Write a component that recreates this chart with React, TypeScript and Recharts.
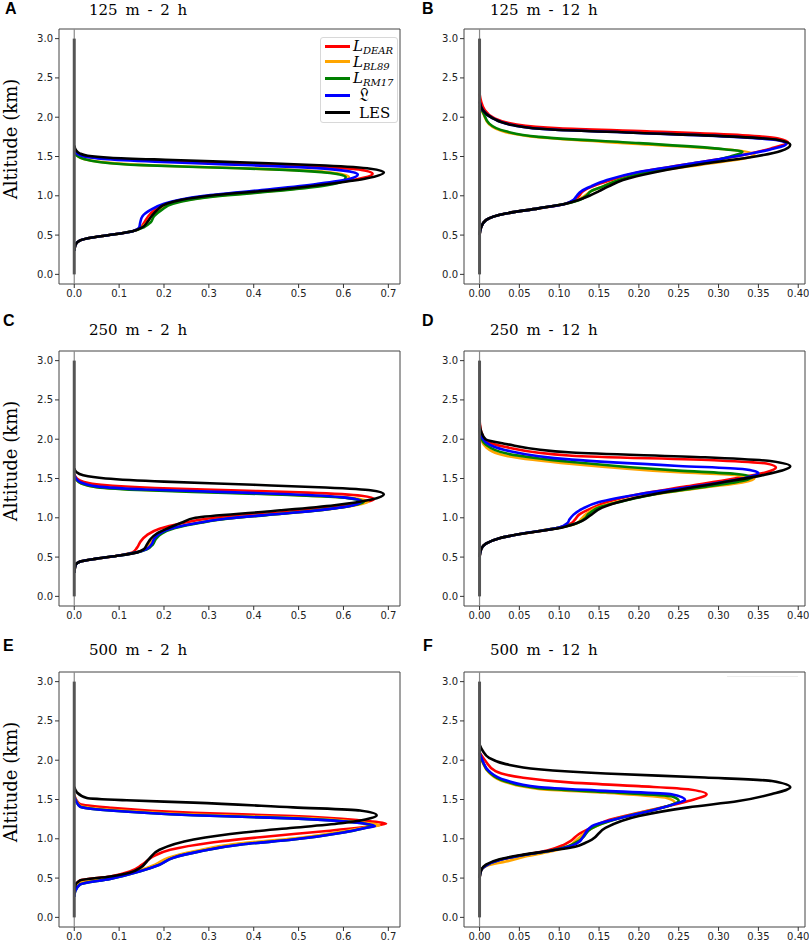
import React from "react";
import { LineChart, Line, XAxis, YAxis, ReferenceLine, ReferenceArea } from "recharts";

// each profile point is [value, altitude in km]
type P = [number, number];

const ALT_TICKS = [0, 0.5, 1, 1.5, 2, 2.5, 3];
const X_TICKS_2H = [0, 0.1, 0.2, 0.3, 0.4, 0.5, 0.6, 0.7];
const X_TICKS_12H = [0, 0.05, 0.1, 0.15, 0.2, 0.25, 0.3, 0.35, 0.4];
const ALT_DOMAIN = [-0.1225, 3.1225];
const X_DOMAIN_2H = [-0.034, 0.726];
const X_DOMAIN_12H = [-0.0195, 0.4085];

const LABELS = ["DEAR", "BL89", "RM17", "L", "LES"];
const COLORS = ["#ff0000", "#ffa500", "#008000", "#0000ff", "#000000"];
const ZERO_SEGMENT: P[] = [[0, 0], [0, 3]];

// 125 m - 2 h
const A_DEAR: P[] = [[0,0.3],[0.003,0.38],[0.012,0.43],[0.04,0.47],[0.09,0.51],[0.13,0.55],[0.148,0.6],[0.156,0.66],[0.165,0.74],[0.18,0.82],[0.205,0.9],[0.24,0.95],[0.3,1.0],[0.45,1.08],[0.56,1.15],[0.63,1.21],[0.665,1.28],[0.64,1.33],[0.54,1.37],[0.38,1.405],[0.2,1.44],[0.07,1.475],[0.025,1.5],[0.01,1.53],[0.003,1.57],[0,1.62]];
const A_BL89: P[] = [[0,0.3],[0.003,0.38],[0.012,0.43],[0.04,0.47],[0.09,0.51],[0.13,0.55],[0.15,0.6],[0.162,0.66],[0.172,0.74],[0.19,0.82],[0.215,0.9],[0.255,0.95],[0.32,1.0],[0.46,1.07],[0.55,1.13],[0.6,1.19],[0.612,1.24],[0.58,1.29],[0.48,1.33],[0.32,1.36],[0.16,1.39],[0.06,1.43],[0.02,1.47],[0.007,1.51],[0,1.56]];
const A_RM17: P[] = [[0,0.3],[0.003,0.38],[0.012,0.43],[0.04,0.47],[0.09,0.51],[0.13,0.55],[0.155,0.6],[0.17,0.66],[0.178,0.74],[0.195,0.82],[0.22,0.9],[0.26,0.95],[0.33,1.0],[0.47,1.07],[0.56,1.13],[0.6,1.19],[0.605,1.24],[0.57,1.29],[0.47,1.33],[0.31,1.36],[0.15,1.39],[0.055,1.43],[0.02,1.47],[0.006,1.51],[0,1.56]];
const A_L: P[] = [[0,0.3],[0.003,0.38],[0.012,0.43],[0.04,0.47],[0.09,0.51],[0.13,0.55],[0.145,0.6],[0.147,0.66],[0.152,0.74],[0.17,0.82],[0.2,0.9],[0.235,0.95],[0.29,1.0],[0.43,1.08],[0.54,1.15],[0.61,1.21],[0.632,1.27],[0.6,1.32],[0.5,1.365],[0.34,1.4],[0.18,1.435],[0.065,1.47],[0.022,1.5],[0.008,1.53],[0.002,1.57],[0,1.62]];
const A_LES: P[] = [[0,0.3],[0.003,0.38],[0.012,0.43],[0.04,0.47],[0.09,0.51],[0.13,0.55],[0.152,0.6],[0.162,0.66],[0.172,0.74],[0.185,0.82],[0.206,0.9],[0.24,0.95],[0.3,1.0],[0.46,1.08],[0.58,1.16],[0.65,1.22],[0.69,1.3],[0.66,1.345],[0.56,1.385],[0.4,1.42],[0.22,1.455],[0.08,1.485],[0.03,1.51],[0.012,1.54],[0.004,1.58],[0,1.64]];

// 125 m - 12 h
const B_DEAR: P[] = [[0,0.5],[0.002,0.6],[0.008,0.69],[0.033,0.775],[0.074,0.84],[0.108,0.9],[0.12,0.95],[0.125,1.0],[0.13,1.06],[0.142,1.12],[0.165,1.2],[0.2,1.3],[0.26,1.4],[0.32,1.5],[0.365,1.6],[0.387,1.68],[0.375,1.73],[0.33,1.77],[0.21,1.82],[0.1,1.86],[0.045,1.91],[0.018,1.99],[0.006,2.1],[0.002,2.2],[0,2.3]];
const B_BL89: P[] = [[0,0.5],[0.002,0.6],[0.008,0.69],[0.033,0.775],[0.074,0.84],[0.108,0.9],[0.124,0.95],[0.132,1.0],[0.14,1.06],[0.155,1.12],[0.175,1.2],[0.215,1.3],[0.28,1.4],[0.335,1.48],[0.345,1.53],[0.315,1.585],[0.2,1.66],[0.074,1.745],[0.033,1.81],[0.012,1.91],[0.005,2.04],[0,2.14]];
const B_RM17: P[] = [[0,0.5],[0.002,0.6],[0.008,0.69],[0.033,0.775],[0.074,0.84],[0.108,0.9],[0.126,0.95],[0.134,1.0],[0.14,1.06],[0.155,1.12],[0.175,1.2],[0.21,1.3],[0.27,1.4],[0.315,1.5],[0.33,1.56],[0.3,1.6],[0.2,1.67],[0.074,1.75],[0.033,1.82],[0.012,1.92],[0.005,2.05],[0,2.15]];
const B_L: P[] = [[0,0.5],[0.002,0.6],[0.008,0.69],[0.033,0.775],[0.074,0.84],[0.108,0.9],[0.118,0.95],[0.122,1.0],[0.128,1.06],[0.14,1.12],[0.16,1.2],[0.198,1.3],[0.26,1.4],[0.32,1.5],[0.365,1.59],[0.385,1.66],[0.372,1.71],[0.32,1.75],[0.2,1.8],[0.095,1.84],[0.041,1.9],[0.016,1.99],[0.004,2.09],[0,2.2]];
const B_LES: P[] = [[0,0.5],[0.002,0.6],[0.008,0.69],[0.033,0.775],[0.074,0.84],[0.108,0.9],[0.125,0.95],[0.138,1.0],[0.15,1.06],[0.162,1.12],[0.18,1.2],[0.22,1.3],[0.283,1.41],[0.346,1.5],[0.378,1.57],[0.39,1.65],[0.375,1.71],[0.325,1.75],[0.2,1.8],[0.095,1.84],[0.041,1.9],[0.016,1.99],[0.004,2.09],[0,2.2]];

// 250 m - 2 h
const C_DEAR: P[] = [[0,0.3],[0.003,0.4],[0.012,0.44],[0.05,0.48],[0.1,0.52],[0.13,0.56],[0.14,0.62],[0.148,0.7],[0.162,0.78],[0.19,0.86],[0.24,0.93],[0.3,0.99],[0.44,1.06],[0.57,1.13],[0.64,1.19],[0.668,1.24],[0.64,1.28],[0.52,1.32],[0.35,1.35],[0.18,1.38],[0.06,1.42],[0.02,1.46],[0.006,1.5],[0,1.56]];
const C_BL89: P[] = [[0,0.3],[0.003,0.4],[0.012,0.44],[0.05,0.48],[0.1,0.52],[0.14,0.56],[0.158,0.6],[0.168,0.66],[0.175,0.73],[0.188,0.8],[0.22,0.87],[0.28,0.94],[0.34,0.99],[0.48,1.06],[0.58,1.12],[0.635,1.17],[0.655,1.2],[0.62,1.25],[0.49,1.29],[0.32,1.325],[0.16,1.355],[0.05,1.39],[0.015,1.44],[0.004,1.49],[0,1.54]];
const C_RM17: P[] = [[0,0.3],[0.003,0.4],[0.012,0.44],[0.05,0.48],[0.1,0.52],[0.14,0.56],[0.162,0.6],[0.175,0.66],[0.182,0.73],[0.195,0.8],[0.225,0.87],[0.285,0.94],[0.345,0.99],[0.48,1.06],[0.58,1.12],[0.63,1.17],[0.645,1.2],[0.61,1.25],[0.48,1.29],[0.32,1.32],[0.16,1.35],[0.05,1.39],[0.015,1.44],[0.004,1.49],[0,1.54]];
const C_L: P[] = [[0,0.3],[0.003,0.4],[0.012,0.44],[0.05,0.48],[0.1,0.52],[0.14,0.56],[0.16,0.6],[0.172,0.66],[0.178,0.73],[0.19,0.8],[0.22,0.87],[0.28,0.94],[0.34,0.99],[0.48,1.06],[0.58,1.12],[0.628,1.17],[0.64,1.21],[0.6,1.26],[0.48,1.3],[0.32,1.33],[0.16,1.36],[0.05,1.4],[0.015,1.45],[0.004,1.5],[0,1.55]];
const C_LES: P[] = [[0,0.3],[0.003,0.4],[0.012,0.44],[0.05,0.48],[0.1,0.52],[0.14,0.56],[0.155,0.6],[0.162,0.66],[0.17,0.73],[0.184,0.8],[0.21,0.87],[0.24,0.94],[0.27,1.0],[0.43,1.08],[0.58,1.16],[0.66,1.23],[0.69,1.3],[0.66,1.35],[0.56,1.385],[0.4,1.42],[0.2,1.46],[0.07,1.5],[0.02,1.54],[0.005,1.58],[0,1.63]];

// 250 m - 12 h
const D_DEAR: P[] = [[0,0.5],[0.002,0.6],[0.008,0.67],[0.025,0.74],[0.049,0.79],[0.1,0.875],[0.115,0.93],[0.12,0.98],[0.125,1.04],[0.14,1.12],[0.16,1.2],[0.2,1.3],[0.26,1.4],[0.32,1.5],[0.36,1.58],[0.372,1.64],[0.36,1.69],[0.3,1.73],[0.116,1.79],[0.033,1.9],[0.008,1.98],[0.002,2.1],[0,2.25]];
const D_BL89: P[] = [[0,0.5],[0.002,0.6],[0.008,0.67],[0.025,0.74],[0.049,0.79],[0.1,0.875],[0.122,0.93],[0.128,0.99],[0.134,1.05],[0.148,1.13],[0.172,1.2],[0.22,1.3],[0.285,1.39],[0.33,1.45],[0.345,1.5],[0.325,1.54],[0.25,1.58],[0.116,1.685],[0.033,1.79],[0.008,1.9],[0.002,2.0],[0,2.1]];
const D_RM17: P[] = [[0,0.5],[0.002,0.6],[0.008,0.67],[0.025,0.74],[0.049,0.79],[0.1,0.875],[0.122,0.93],[0.132,0.99],[0.137,1.05],[0.15,1.13],[0.175,1.2],[0.22,1.3],[0.28,1.39],[0.325,1.46],[0.342,1.515],[0.32,1.56],[0.25,1.6],[0.116,1.71],[0.033,1.82],[0.008,1.93],[0.002,2.02],[0,2.12]];
const D_L: P[] = [[0,0.5],[0.002,0.6],[0.008,0.67],[0.025,0.74],[0.049,0.79],[0.1,0.875],[0.11,0.93],[0.113,0.98],[0.118,1.04],[0.13,1.12],[0.15,1.2],[0.2,1.3],[0.27,1.4],[0.33,1.5],[0.35,1.57],[0.33,1.62],[0.25,1.66],[0.116,1.74],[0.033,1.86],[0.008,1.96],[0.002,2.05],[0,2.15]];
const D_LES: P[] = [[0,0.5],[0.002,0.6],[0.008,0.67],[0.025,0.74],[0.049,0.79],[0.104,0.877],[0.129,0.96],[0.139,1.03],[0.154,1.13],[0.19,1.24],[0.241,1.34],[0.304,1.45],[0.354,1.54],[0.39,1.655],[0.367,1.72],[0.283,1.77],[0.116,1.83],[0.033,1.94],[0.0075,2.0],[0.002,2.1],[0,2.2]];

// 500 m - 2 h
const E_DEAR: P[] = [[0,0.3],[0.002,0.4],[0.013,0.47],[0.08,0.52],[0.125,0.587],[0.151,0.67],[0.177,0.78],[0.214,0.86],[0.303,0.95],[0.414,1.02],[0.563,1.1],[0.66,1.16],[0.695,1.19],[0.637,1.234],[0.488,1.29],[0.266,1.33],[0.08,1.395],[0.013,1.44],[0.004,1.5],[0,1.56]];
const E_BL89: P[] = [[0,0.28],[0.002,0.36],[0.013,0.44],[0.08,0.5],[0.14,0.587],[0.18,0.67],[0.21,0.76],[0.27,0.845],[0.365,0.94],[0.48,1.0],[0.59,1.085],[0.655,1.15],[0.68,1.17],[0.637,1.21],[0.488,1.27],[0.266,1.31],[0.08,1.37],[0.013,1.42],[0.004,1.49],[0,1.55]];
const E_RM17: P[] = [[0,0.26],[0.002,0.33],[0.013,0.42],[0.08,0.49],[0.147,0.587],[0.19,0.67],[0.221,0.76],[0.28,0.84],[0.377,0.93],[0.488,0.99],[0.6,1.08],[0.65,1.14],[0.665,1.16],[0.637,1.2],[0.488,1.26],[0.266,1.3],[0.08,1.36],[0.013,1.41],[0.004,1.48],[0,1.54]];
const E_L: P[] = [[0,0.26],[0.002,0.33],[0.013,0.42],[0.08,0.49],[0.147,0.587],[0.19,0.67],[0.221,0.76],[0.28,0.84],[0.377,0.93],[0.488,0.99],[0.6,1.08],[0.652,1.14],[0.67,1.16],[0.637,1.2],[0.488,1.26],[0.266,1.3],[0.08,1.36],[0.013,1.41],[0.004,1.48],[0,1.54]];
const E_LES: P[] = [[0,0.3],[0.002,0.4],[0.013,0.47],[0.08,0.52],[0.125,0.57],[0.147,0.63],[0.166,0.74],[0.19,0.86],[0.266,0.99],[0.377,1.08],[0.488,1.14],[0.6,1.2],[0.66,1.26],[0.674,1.3],[0.637,1.36],[0.488,1.4],[0.266,1.46],[0.117,1.49],[0.028,1.52],[0.006,1.59],[0,1.66]];

// 500 m - 12 h
const F_DEAR: P[] = [[0,0.5],[0.002,0.6],[0.008,0.66],[0.025,0.73],[0.05,0.785],[0.085,0.85],[0.105,0.92],[0.114,0.97],[0.124,1.055],[0.14,1.14],[0.158,1.225],[0.208,1.35],[0.262,1.48],[0.285,1.566],[0.262,1.63],[0.2,1.67],[0.116,1.715],[0.053,1.78],[0.02,1.86],[0.0075,1.99],[0,2.1]];
const F_BL89: P[] = [[0,0.5],[0.002,0.6],[0.01,0.66],[0.033,0.71],[0.06,0.78],[0.095,0.85],[0.113,0.91],[0.12,0.97],[0.128,1.04],[0.142,1.14],[0.17,1.25],[0.21,1.35],[0.238,1.42],[0.245,1.46],[0.235,1.52],[0.158,1.585],[0.074,1.635],[0.033,1.72],[0.012,1.84],[0.004,1.97],[0,2.07]];
const F_RM17: P[] = [[0,0.5],[0.002,0.6],[0.008,0.66],[0.025,0.73],[0.05,0.785],[0.09,0.85],[0.112,0.91],[0.124,0.97],[0.13,1.02],[0.14,1.13],[0.175,1.26],[0.215,1.36],[0.243,1.44],[0.25,1.48],[0.241,1.54],[0.158,1.595],[0.074,1.645],[0.033,1.73],[0.012,1.85],[0.004,1.98],[0,2.08]];
const F_L: P[] = [[0,0.5],[0.002,0.6],[0.008,0.66],[0.025,0.73],[0.05,0.785],[0.09,0.85],[0.115,0.91],[0.126,0.97],[0.129,1.01],[0.141,1.16],[0.179,1.27],[0.22,1.37],[0.25,1.46],[0.258,1.494],[0.241,1.566],[0.158,1.61],[0.074,1.66],[0.033,1.745],[0.012,1.86],[0.004,1.99],[0,2.1]];
const F_LES: P[] = [[0,0.5],[0.002,0.6],[0.008,0.67],[0.025,0.74],[0.05,0.79],[0.09,0.85],[0.12,0.9],[0.133,0.95],[0.141,0.99],[0.158,1.14],[0.2,1.29],[0.262,1.4],[0.325,1.48],[0.367,1.57],[0.39,1.655],[0.367,1.736],[0.283,1.78],[0.158,1.83],[0.074,1.885],[0.033,1.95],[0.012,2.03],[0.004,2.12],[0,2.2]];

const FW = 341;
const FH = 255;
const YW = 46;
const XH = 24;
const PAD = 2;
const RIGHT = 12;

const TICK = { fontSize: 10, fill: "#222", fontFamily: "DejaVu Sans" };

const toRows = (pts: P[]) => pts.map(([v, alt]) => ({ v, alt }));

function Panel({ x, y, xDomain, xTicks, digits, curves }: { x: number; y: number; xDomain: number[]; xTicks: number[]; digits: number; curves: P[][] }) {
  return (
    <div style={{ position: "absolute", left: x - YW, top: y - PAD }}>
      <LineChart layout="vertical" width={YW + FW + RIGHT} height={FH + XH + PAD} margin={{ top: PAD, right: RIGHT, bottom: 0, left: 0 }}>
        <XAxis type="number" domain={xDomain} ticks={xTicks} interval={0} allowDataOverflow height={XH} tickSize={4} axisLine={false} tickLine={{ stroke: "#333" }} tick={TICK} tickFormatter={(t: number) => t.toFixed(digits)} />
        <YAxis type="number" dataKey="alt" domain={ALT_DOMAIN} ticks={ALT_TICKS} interval={0} allowDataOverflow reversed width={YW} tickSize={4} axisLine={false} tickLine={{ stroke: "#333" }} tick={TICK} tickFormatter={(t: number) => t.toFixed(1)} />
        <ReferenceLine x={0} stroke="#8a8a8a" strokeWidth={1.2} />
        {curves.map((c, i) => (
          <Line key={LABELS[i]} data={toRows(c)} dataKey="v" type="monotone" stroke={COLORS[i]} strokeWidth={2.6} dot={false} isAnimationActive={false} />
        ))}
        <Line data={toRows(ZERO_SEGMENT)} dataKey="v" stroke="#555" strokeWidth={3} dot={false} isAnimationActive={false} />
        <ReferenceArea x1={xDomain[0]} x2={xDomain[1]} y1={ALT_DOMAIN[0]} y2={ALT_DOMAIN[1]} fill="none" stroke="#444" strokeWidth={1} />
      </LineChart>
    </div>
  );
}

const serif = "'DejaVu Serif', serif";

function Tag({ x, y, text }: { x: number; y: number; text: string }) {
  return <div style={{ position: "absolute", left: x, top: y, fontFamily: "'Liberation Sans', Arial, sans-serif", fontWeight: 700, fontSize: 16, lineHeight: "16px" }}>{text}</div>;
}

function Title({ x, y, text }: { x: number; y: number; text: string }) {
  return <div style={{ position: "absolute", left: x, top: y, fontFamily: serif, fontSize: 15, lineHeight: "15px", wordSpacing: 3, whiteSpace: "nowrap" }}>{text}</div>;
}

function AltLabel({ cy }: { cy: number }) {
  return (
    <div style={{ position: "absolute", left: 11, top: cy, transform: "translate(-50%, -50%) rotate(-90deg)", fontFamily: serif, fontSize: 18, lineHeight: "18px", whiteSpace: "nowrap" }}>
      Altitude (km)
    </div>
  );
}

function LegendRow({ color, children, top }: { color: string; children: React.ReactNode; top: number }) {
  return (
    <div style={{ position: "absolute", left: 4, top, height: 16, display: "flex", alignItems: "center" }}>
      <div style={{ width: 25, height: 3, background: color }} />
      <div style={{ marginLeft: 3, fontFamily: serif, fontSize: 15, lineHeight: "16px", whiteSpace: "nowrap" }}>{children}</div>
    </div>
  );
}

function Legend() {
  const sub = (s: string) => (
    <span style={{ fontSize: 10, fontStyle: "italic", position: "relative", top: 3, lineHeight: 0 }}>{s}</span>
  );
  return (
    <div style={{ position: "absolute", left: 320, top: 37, width: 78, height: 86, background: "#fff", border: "1px solid #d8d8d8", borderRadius: 3, boxSizing: "border-box" }}>
      <LegendRow color={COLORS[0]} top={0}><i>L</i>{sub("DEAR")}</LegendRow>
      <LegendRow color={COLORS[1]} top={15.7}><i>L</i>{sub("BL89")}</LegendRow>
      <LegendRow color={COLORS[2]} top={32.3}><i>L</i>{sub("RM17")}</LegendRow>
      <LegendRow color={COLORS[3]} top={49.3}><span style={{ marginLeft: 6, fontSize: 17 }}>𝔏</span></LegendRow>
      <LegendRow color={COLORS[4]} top={66.7}><span style={{ marginLeft: 6 }}>LES</span></LegendRow>
    </div>
  );
}

export default function App() {
  return (
    <div style={{ position: "absolute", left: 0, top: 0, width: 809, height: 940, background: "#fff", overflow: "hidden" }}>
      <Panel x={59} y={29} xDomain={X_DOMAIN_2H} xTicks={X_TICKS_2H} digits={1} curves={[A_DEAR, A_BL89, A_RM17, A_L, A_LES]} />
      <Panel x={464} y={29} xDomain={X_DOMAIN_12H} xTicks={X_TICKS_12H} digits={2} curves={[B_DEAR, B_BL89, B_RM17, B_L, B_LES]} />
      <Panel x={59} y={350.5} xDomain={X_DOMAIN_2H} xTicks={X_TICKS_2H} digits={1} curves={[C_DEAR, C_BL89, C_RM17, C_L, C_LES]} />
      <Panel x={464} y={350.5} xDomain={X_DOMAIN_12H} xTicks={X_TICKS_12H} digits={2} curves={[D_DEAR, D_BL89, D_RM17, D_L, D_LES]} />
      <Panel x={59} y={671.5} xDomain={X_DOMAIN_2H} xTicks={X_TICKS_2H} digits={1} curves={[E_DEAR, E_BL89, E_RM17, E_L, E_LES]} />
      <Panel x={464} y={671.5} xDomain={X_DOMAIN_12H} xTicks={X_TICKS_12H} digits={2} curves={[F_DEAR, F_BL89, F_RM17, F_L, F_LES]} />

      <Legend />
      <div style={{ position: "absolute", left: 727, top: 676, width: 71, height: 1, background: "#ececec" }} />

      <Tag x={5} y={1} text="A" />
      <Tag x={422} y={1} text="B" />
      <Tag x={3} y={313} text="C" />
      <Tag x={422} y={313} text="D" />
      <Tag x={3} y={638} text="E" />
      <Tag x={423} y={638} text="F" />

      <Title x={89} y={3} text="125 m - 2 h" />
      <Title x={490} y={3} text="125 m - 12 h" />
      <Title x={89} y={323} text="250 m - 2 h" />
      <Title x={490} y={323} text="250 m - 12 h" />
      <Title x={89} y={643} text="500 m - 2 h" />
      <Title x={490} y={643} text="500 m - 12 h" />

      <AltLabel cy={139} />
      <AltLabel cy={461} />
      <AltLabel cy={782} />
    </div>
  );
}
